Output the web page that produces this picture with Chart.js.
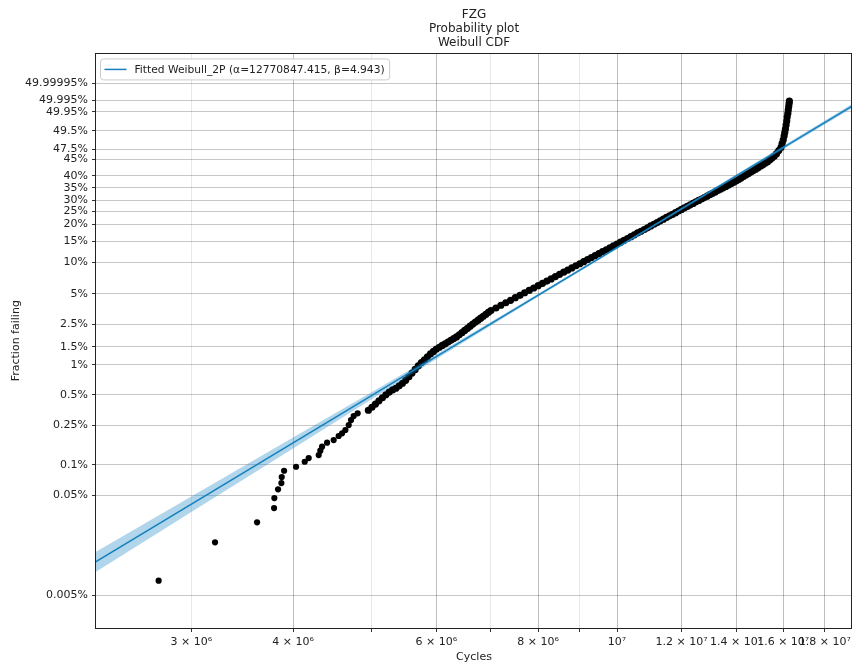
<!DOCTYPE html>
<html>
<head>
<meta charset="utf-8">
<script src="https://cdn.jsdelivr.net/npm/chart.js@4.4.1/dist/chart.umd.min.js"></script>
<style>
  html, body { margin: 0; padding: 0; background: #fff; }
  canvas { display: block; }
</style>
</head>
<body>
<canvas id="chartWeibull" width="857" height="663"></canvas>
<script>
const FONT = '"DejaVu Sans", sans-serif';

// x axis (cycles, log scale)
const xTickValues = [3e6, 4e6, 5e6, 6e6, 7e6, 8e6, 9e6, 1e7, 1.2e7, 1.4e7, 1.6e7, 1.8e7];
const xTickLabels = ['3 × 10⁶', '4 × 10⁶', '', '6 × 10⁶', '', '8 × 10⁶', '', '10⁷', '1.2 × 10⁷', '1.4 × 10⁷', '1.6 × 10⁷', '1.8 × 10⁷'];
const xLightGrid = [3e6, 5e6, 7e6, 9e6];

// y axis in Weibull units ln(-ln(1-F)), labels as printed on the plot
const yTickValues = [1.867, 1.483, 1.214, 0.777, 0.349, 0.120, -0.257, -0.533, -0.816, -1.069, -1.375, -1.759,
  -2.250, -2.970, -3.676, -4.192, -4.600, -5.296, -5.990, -6.907, -7.600, -9.903];
const yTickLabels = ['49.99995%', '49.995%', '49.95%', '49.5%', '47.5%', '45%', '40%', '35%', '30%', '25%', '20%', '15%',
  '10%', '5%', '2.5%', '1.5%', '1%', '0.5%', '0.25%', '0.1%', '0.05%', '0.005%'];

// failures (millions of cycles) and their plotting position
const failureMcycles = [
  2.735, 3.208, 3.613, 3.791, 3.794, 3.834, 3.870, 3.874, 3.900, 4.034, 4.134, 4.181,
  4.301, 4.321, 4.342, 4.404, 4.487, 4.551, 4.595, 4.638, 4.682, 4.713, 4.748, 4.802,
  4.95, 5.00, 5.05, 5.10, 5.15, 5.20, 5.25, 5.30, 5.35, 5.40, 5.45, 5.50, 5.55, 5.60,
  5.65, 5.70, 5.75, 5.80, 5.85, 5.90, 5.95, 6.00, 6.05, 6.10, 6.15, 6.20, 6.25, 6.30,
  6.35, 6.40, 6.45, 6.50, 6.55, 6.60, 6.65, 6.70, 6.75, 6.80, 6.85, 6.90, 6.95, 7.00,
  7.1, 7.2, 7.3, 7.4, 7.5, 7.6, 7.7, 7.8, 7.9, 8.0, 8.1, 8.2, 8.3, 8.4, 8.5, 8.6, 8.7,
  8.8, 8.9, 9.0, 9.1, 9.2, 9.3, 9.4, 9.5, 9.6, 9.7, 9.8, 9.9, 10.0, 10.1, 10.2, 10.3,
  10.4, 10.5, 10.6, 10.7, 10.8, 10.9, 11.0, 11.1, 11.2, 11.3, 11.4, 11.5, 11.6, 11.7,
  11.8, 11.9, 12.0, 12.1, 12.2, 12.3, 12.4, 12.5, 12.6, 12.7, 12.8, 12.9, 13.0, 13.1,
  13.2, 13.3, 13.4, 13.5, 13.6, 13.7, 13.8, 13.9, 14.0, 14.1, 14.2, 14.3, 14.4, 14.5,
  14.6, 14.7, 14.8, 14.9, 15.0, 15.1, 15.2, 15.3, 15.4, 15.5, 15.6, 15.7, 15.8, 15.9,
  15.95, 16.00, 16.04, 16.07, 16.10, 16.13, 16.16, 16.18, 16.21, 16.23, 16.25, 16.27, 16.28
];
const failureY = [
  -9.568, -8.685, -8.225, -7.897, -7.667, -7.467, -7.322, -7.184, -7.039, -6.947, -6.832, -6.747,
  -6.678, -6.579, -6.487, -6.395, -6.333, -6.241, -6.179, -6.103, -5.989, -5.874, -5.782, -5.720,
  -5.648, -5.579, -5.506, -5.432, -5.361, -5.292, -5.230, -5.182, -5.143, -5.087, -5.028, -4.961, -4.876, -4.793,
  -4.710, -4.630, -4.552, -4.487, -4.421, -4.354, -4.297, -4.241, -4.200, -4.159, -4.120, -4.080, -4.041, -4.000,
  -3.963, -3.915, -3.864, -3.814, -3.766, -3.715, -3.667, -3.621, -3.577, -3.531, -3.487, -3.444, -3.400, -3.356,
  -3.297, -3.234, -3.177, -3.120, -3.060, -3.005, -2.947, -2.894, -2.837, -2.784, -2.731, -2.678, -2.628, -2.575, -2.524, -2.474, -2.425,
  -2.375, -2.326, -2.280, -2.232, -2.186, -2.138, -2.092, -2.048, -2.002, -1.959, -1.915, -1.871, -1.828, -1.784, -1.740, -1.699,
  -1.657, -1.616, -1.572, -1.533, -1.492, -1.453, -1.411, -1.372, -1.333, -1.294, -1.255, -1.216, -1.179, -1.143,
  -1.106, -1.067, -1.032, -0.995, -0.961, -0.926, -0.892, -0.857, -0.825, -0.791, -0.759, -0.726, -0.692, -0.660,
  -0.628, -0.595, -0.566, -0.533, -0.501, -0.471, -0.441, -0.409, -0.379, -0.345, -0.310, -0.274, -0.239, -0.205,
  -0.172, -0.138, -0.106, -0.071, -0.037, -0.005, 0.030, 0.060, 0.106, 0.152, 0.193, 0.251, 0.324, 0.395,
  0.483, 0.563, 0.655, 0.736, 0.816, 0.908, 1.000, 1.092, 1.172, 1.253, 1.333, 1.402, 1.460
];

// fitted Weibull_2P line and its confidence band
const fitMcycles = [2.2, 20.0];
const fitY = [-9.33, 1.486];
const bandMcycles = [2.2, 3, 4, 5, 6, 8, 10, 14, 20];
const bandUpper = [-9.09, -7.63, -6.275, -5.227, -4.359, -2.969, -1.881, -0.227, 1.536];
const bandLower = [-9.57, -7.99, -6.525, -5.387, -4.469, -3.039, -1.941, -0.297, 1.436];

const legendText = 'Fitted Weibull_2P (α=12770847.415, β=4.943)';
const lineColor = '#1580be';
const bandColor = 'rgba(31, 134, 196, 0.35)';

const toXY = (xs, ys) => xs.map((x, i) => ({ x: x * 1e6, y: ys[i] }));

const frameAndLegend = {
  id: 'frameAndLegend',
  afterDraw(chart) {
    const { ctx, chartArea: a } = chart;
    ctx.save();
    // axes frame
    ctx.strokeStyle = '#222';
    ctx.lineWidth = 1;
    const l = Math.round(a.left) - 0.5, t = Math.round(a.top) + 0.5;
    const r = Math.round(a.right) - 0.5, b = Math.round(a.bottom) + 0.5;
    ctx.strokeRect(l, t, r - l, b - t);
    // legend
    ctx.font = '10.7px ' + FONT;
    const bx = a.left + 4.5, by = a.top + 5.5;
    const bw = 34 + ctx.measureText(legendText).width + 5, bh = 21;
    ctx.beginPath();
    ctx.roundRect(bx, by, bw, bh, 3);
    ctx.fillStyle = 'rgba(255,255,255,0.85)';
    ctx.fill();
    ctx.strokeStyle = '#cccccc';
    ctx.stroke();
    ctx.beginPath();
    ctx.moveTo(bx + 4, by + bh / 2);
    ctx.lineTo(bx + 26, by + bh / 2);
    ctx.strokeStyle = lineColor;
    ctx.lineWidth = 1.5;
    ctx.stroke();
    ctx.fillStyle = '#222';
    ctx.textBaseline = 'middle';
    ctx.fillText(legendText, bx + 34, by + bh / 2 + 0.5);
    ctx.restore();
  }
};

const ctx = document.getElementById('chartWeibull');

new Chart(ctx, {
  type: 'scatter',
  data: {
    datasets: [
      {
        type: 'line',
        label: legendText,
        data: toXY(fitMcycles, fitY),
        borderColor: lineColor,
        borderWidth: 1.5,
        pointRadius: 0,
        fill: false,
        order: 0
      },
      {
        type: 'line',
        label: 'upper',
        data: toXY(bandMcycles, bandUpper),
        borderWidth: 0,
        pointRadius: 0,
        backgroundColor: bandColor,
        fill: '+1',
        order: 1
      },
      {
        type: 'line',
        label: 'lower',
        data: toXY(bandMcycles, bandLower),
        borderWidth: 0,
        pointRadius: 0,
        fill: false,
        order: 1
      },
      {
        label: 'failures',
        data: toXY(failureMcycles, failureY),
        backgroundColor: '#000',
        borderWidth: 0,
        pointRadius: (c) => c.dataIndex < 24 ? 3.1 : 3.6,
        order: 2
      }
    ]
  },
  options: {
    responsive: false,
    animation: false,
    events: [],
    layout: { padding: { left: 0, right: 5, top: 0, bottom: 0 } },
    plugins: {
      legend: { display: false },
      tooltip: { enabled: false },
      title: {
        display: true,
        fullSize: false,
        text: ['FZG', 'Probability plot', 'Weibull CDF'],
        color: '#222',
        font: { family: FONT, size: 12, weight: 'normal', lineHeight: 1.17 },
        padding: { top: 8, bottom: 3.3 }
      }
    },
    scales: {
      x: {
        type: 'logarithmic',
        min: 2.291e6,
        max: 1.9436e7,
        bounds: 'data',
        afterBuildTicks: (scale) => { scale.ticks = xTickValues.map(v => ({ value: v })); },
        afterFit: (scale) => { scale.height = 35; },
        ticks: {
          autoSkip: false,
          maxRotation: 0,
          minRotation: 0,
          padding: 4,
          color: '#222',
          font: { family: FONT, size: 11 },
          callback: (value) => xTickLabels[xTickValues.indexOf(value)]
        },
        grid: {
          color: (c) => xLightGrid.includes(c.tick && c.tick.value) ? 'rgba(0,0,0,0.09)' : 'rgba(0,0,0,0.25)',
          tickColor: '#333',
          tickLength: 4,
          tickWidth: 1
        },
        border: { display: false },
        title: {
          display: true,
          text: 'Cycles',
          color: '#222',
          font: { family: FONT, size: 11, lineHeight: 1 },
          padding: { top: 0, bottom: 0 }
        }
      },
      y: {
        type: 'linear',
        min: -10.655,
        max: 2.556,
        bounds: 'data',
        afterBuildTicks: (scale) => {
          scale.ticks = yTickValues.slice().sort((a, b) => a - b).map(v => ({ value: v }));
        },
        afterFit: (scale) => { scale.width = 96; },
        ticks: {
          autoSkip: false,
          padding: 4,
          color: '#222',
          font: { family: FONT, size: 11 },
          callback: (value) => yTickLabels[yTickValues.indexOf(value)]
        },
        grid: {
          color: 'rgba(0,0,0,0.22)',
          tickColor: '#333',
          tickLength: 4,
          tickWidth: 1
        },
        border: { display: false },
        title: {
          display: true,
          text: 'Fraction failing',
          color: '#222',
          font: { family: FONT, size: 11 },
          padding: { top: 10, bottom: 0 }
        }
      }
    }
  },
  plugins: [frameAndLegend]
});
</script>
</body>
</html>
